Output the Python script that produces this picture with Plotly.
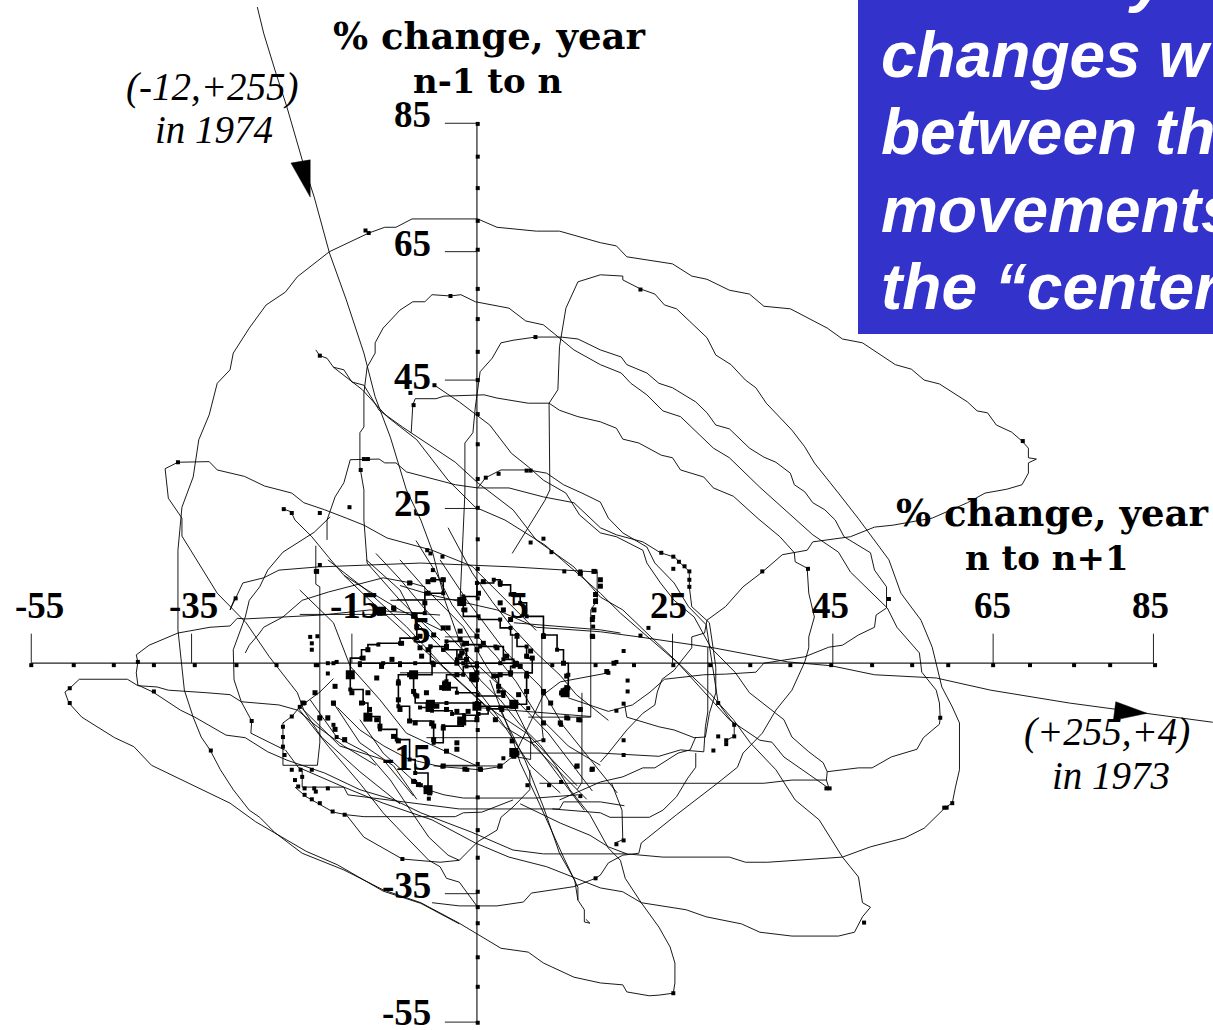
import plotly.graph_objects as go

W, H = 1213, 1030
x_range = [-58.9, 92.43]
y_range = [-56.23, 104.2]

x_tick_values = [-55, -35, -15, 5, 25, 45, 65, 85]
y_tick_values = [85, 65, 45, 25, 5, -15, -35, -55]
x_axis_level = 0.9
y_axis_level = 0.6

line_1974 = [(-26.8,103.1),(-26,99),(-24.6,93.3),(-23.1,87.5),(-21.2,79.3),(-19.7,73.5),(-17.8,64.8),(-15.7,57.5),(-13.5,49.2),(-12.1,42.4),(-10.2,36.1),(-8.2,27.9),(-6.4,23.2),(-5,18.5),(-3.4,10.7),(-1.2,3),(1,-1.7)]
line_1973 = [(92.4,-8.3),(84.2,-6.9),(74.5,-5.3),(64.7,-3.3),(57.9,-1.4),(50.2,-0.9),(44.8,0.5),(39.4,1.1),(30.1,3.3),(20.8,5),(16,5.8),(8,6.5),(3.1,9.2),(-5,11.5),(-9,13)]
arrow_1974 = [(-22.6,78.8),(-20.2,79.3),(-20.2,73.5),(-22.6,78.8)]
arrow_1973 = [(80.3,-5.1),(84.2,-6.9),(80,-8),(80.3,-5.1)]

loop_a = [(16,-14.5),(17,-13.1),(19.3,-9.5),(21.3,-6.9),(22.8,-5.6),(23.1,-3.6),(23.7,-1.6),(25.2,-0.2),(26,1.1),(27.4,3.3),(27.4,5),(29,5.6),(29.3,7.6),(31.6,9.7),(33.8,12.8),(36.2,15.1),(38.7,17.8),(41.8,18.5),(42.5,19.8),(47.2,20.6),(50.2,22.1),(52.5,22.4),(57.4,23.5),(61.8,25.9),(64,27.4),(66.7,28),(68.6,28.7),(69.4,30.5),(69.4,32.1),(70.4,32.7),(69.4,32.9),(69.4,34.4),(68.6,35.5),(67.3,36.9),(65.4,38),(64.3,39.9),(63,40.2),(61.8,41.6),(58.3,44.4),(56.4,45),(54.8,46.7),(52.8,47.4),(48.7,50.8),(46.2,51.4),(44.3,53.1),(39.7,56.1),(36.4,56.5),(34.6,58.4),(32.1,59),(29.3,60.7),(27.4,61.2),(25,63.1),(19.3,64.2),(18,65.9),(16,66.4),(10.9,68.2),(8,68.2),(3.1,68.8),(0.7,70.1),(-7.5,70.1),(-9.5,68.8),(-10.9,68.8),(-12.9,67.9),(-17.8,65),(-21.8,61.1),(-23.3,58.7),(-25.7,56.7),(-27.8,53.1),(-29.8,49.2),(-30.2,46.6),(-31.8,44.5),(-32.8,39.6),(-34.1,35.7),(-34.8,29.9),(-36.2,25.2),(-36.7,18.5),(-36.7,6.1),(-36.2,0.3),(-35.9,-3.3),(-34.8,-7.5),(-33.8,-10.6),(-32.7,-12.6),(-31.4,-15.7),(-29.8,-18.8),(-27.8,-22),(-26.5,-23.1),(-24.6,-25.5),(-21.2,-28.7),(-18.3,-30.2),(-16,-31.3),(-11.1,-34.4),(-6.4,-36.4),(-1.6,-39.6),(3.6,-43.5),(7,-44.1),(8.9,-45.8),(12.7,-48),(16,-48.9),(18.8,-49.2),(19.3,-50.3),(22.1,-50.9),(23.3,-50.8),(25.1,-50.5),(25.3,-48.9),(25.3,-45.8),(24.7,-43.3),(23.3,-40.2),(21.1,-36.4),(19.1,-32.6),(18.5,-29.8),(17,-27.9),(14.7,-22.7),(12.2,-18.8),(10.4,-15),(8.5,-11.8),(6,-8.7),(3.5,-4.8),(1,-1.7)]
loop_c = [(-4,4.5),(-9,10.7),(-13.1,16.5),(-13.5,23.2),(-13.5,27.9),(-14,31.5),(-14,36.8),(-13.5,37.7),(-13.5,43),(-13.1,47),(-12.1,49.2),(-12.1,50.8),(-11.1,53.1),(-9,55.9),(-7.4,57.2),(-5.9,57.2),(-5,58.3),(-2.7,58.1),(-1.4,58.3),(0.4,57.2),(4.6,56.2),(6.7,54.2),(8.9,53.6),(12.7,49.7),(16,47.4),(18.6,46.1),(19.8,44.5),(21.8,42.7),(23.8,40.2),(26,39.3),(30.1,34.4),(32.1,32.9),(35.9,28.3),(40.2,23.5),(42.5,20.9),(45.7,18.2),(47.2,15.1),(51.8,9.5),(53,6.5),(55.8,2.5),(56.1,-0.5),(57.9,-3.3),(58.3,-5.3),(58.4,-7.6),(58.3,-8.6),(56.3,-10.7),(55.5,-12.5),(52.3,-13.7),(49.9,-15.4),(48.2,-15.4),(44.3,-16),(44.2,-17.3),(44.5,-18.5)]
loop_d = [(-1.5,10.7),(-0.9,27.4),(-0.9,35.2),(0.1,36.8),(0.4,40.8),(0.7,43.5),(1,46.3),(2.5,48.4),(3.6,50.8),(5.1,51.2),(7.9,51.7),(11.1,51.7),(13.2,51.4),(16,49.7),(18.6,48.6),(19.3,47.4),(21.8,46.1),(23.3,44.5),(25,43.8),(27.9,41.6),(29.3,39.9),(30.4,38),(32.1,37.4),(34.6,34.4),(36.4,33),(37.9,32.2),(39.7,30.5),(40.2,28.7),(41.5,27.6),(42.5,25.9),(44,24.8),(45.3,23.2),(46.4,20.6),(49.7,18.1),(50.2,15.4),(51.7,12.8),(51.7,9.5),(50.4,8.4),(50.2,6.5),(48.2,5.3),(46.2,3.7),(44.5,3.4),(41.5,1.9),(36.4,0.9),(35.4,-0.5),(31.6,-0.8),(28.9,-0.9),(24,-1.6),(22.2,-3.6),(20,-5.6),(17,-6.6),(12,-4.5)]
loop_e = [(5,18),(9.1,26.3),(9.7,27.9),(9.6,41.4),(10.7,43.5),(10.9,50.2),(11.7,56.2),(13.2,60.3),(16,61.4),(18.8,61.2),(18.8,60.6),(21,59.2),(22.8,58.4),(24,56.7),(25.5,56.1),(29.3,51.6),(30.4,48.9),(32.3,47.4),(34.1,45),(35.4,43.8),(36.7,41.4),(39.9,37.2),(41.5,34.6),(42.7,32.1),(45.7,27.4),(48.2,23.4),(52,17),(53.5,11.8),(56,7.6),(57.4,3.4),(58.6,-2.8),(59.9,-5.9),(60.8,-8.4),(60.8,-15.7),(60.3,-18.4),(59.9,-20.9),(59.1,-21.5),(56.4,-24.8),(54,-26.3),(49.7,-27.7),(46.2,-29.3),(36.9,-30.1),(34.1,-30.1),(32.1,-29.3),(23.8,-29.3),(19.3,-28.8),(17,-27.7),(14.7,-25.9),(11,-24),(6,-21)]
loop_f = [(-7.6,36.8),(-7.4,41.1),(-7.1,42.1),(-4.5,42.1),(-3.5,42.5),(1.5,42.7),(3.1,42.2),(7,41.4),(9.6,41.4),(10.9,40.3),(13.2,39.3),(16,38.5),(18,37.5),(18.8,35.8),(20.8,35.2),(23.6,33.3),(25,32.9),(26,31),(28.9,29.9),(30.1,28.2),(32.6,26.9),(35.7,23.4),(38.4,20.6),(40.2,18.1),(40.3,16.7),(41.8,15.7),(42,11.8),(42.7,8.1),(42,5),(42,3.3),(41.5,1.1),(39.9,-3.3),(37.9,-6.4),(36.2,-10),(33.8,-13.1),(33.1,-15.3),(30.6,-17.8),(27.9,-20.4),(25.5,-22.7),(21.1,-27.1),(20.8,-28.7),(18.8,-29),(17,-30.2),(16,-32.1),(15.4,-32.6),(12.7,-33.9),(7.4,-34.9),(6.4,-36.3),(3.1,-36.9),(-1.6,-36.9),(-5,-36.4)]
diag_1 = [(-19.5,49.7),(-19,48.8),(-18.1,48.4),(-17.3,47),(-16,46.6),(-15,44.7),(-13.5,44.2),(-11.6,40.3),(-8.7,37.7),(-5.4,34.9),(-2.1,32.2),(0.7,29),(5.1,24.8),(8,20.1),(12.7,15.9),(16,11.2),(18.8,9.2),(22.3,5),(25.7,0.9),(29.6,-3.7),(32.6,-7.9),(34.7,-11.5),(37.9,-15.7),(40.3,-20.4),(43.3,-23.5),(46.2,-29.3),(48.2,-32.4),(48.7,-36.4),(49.7,-37.1),(48.7,-38.6),(47.7,-41),(45.7,-41.6),(39.9,-41.6),(35.9,-41),(33.6,-39.7),(29.2,-38.6),(26.7,-37.5),(21.1,-36.4),(18.8,-34.7),(16,-34.1),(9.3,-30.8),(4.6,-29.3),(0.4,-27.1),(-5,-23.5),(-11.1,-20.9),(-16,-18.4),(-21.7,-15.3),(-23.3,-12.6)]
diag_2 = [(-17.3,47),(-15.7,45.5),(-13.7,43.5),(-10.6,39.3),(-6.9,35.7),(-3,29.4),(0.4,25.2),(4.1,23.2),(9.1,19.3),(16,11.8),(18.5,8.7),(25.7,0.9),(32.1,-7.9),(35.9,-11.1),(37.4,-11.4),(38.9,-13.7),(44.3,-18.4)]
diag_3 = [(-4.7,44.2),(-1.6,41.6),(2.2,38),(4.9,33.6),(7,31.5),(8.9,29.4),(11.7,27.4),(13.4,24),(16,21.2),(18,20.6),(21.3,18.5),(21.8,16.5),(23.5,13.4),(25.2,10.7),(27.7,8.1),(29.8,3.3),(32.8,-0.5),(34.6,-3.7),(38.9,-7.9),(39.9,-10.6),(42,-12.9),(43.8,-14.6),(44.3,-16)]
tail_top = [(-50.2,-3),(-49,-1.6),(-43,-1.6),(-41.7,-2.6),(-39.3,-2.8),(-37.9,-3.3),(-33.1,-3.7),(-30.2,-4),(-28.8,-5.1),(-24.1,-5.6),(-21.8,-6.4),(-19.6,-8.7),(-16,-12),(-12,-15)]
tail_low = [(-50.2,-3),(-50.8,-3.6),(-50.3,-5.3),(-48.7,-7.5),(-44.6,-10.7),(-42.2,-12.1),(-40,-15),(-35.4,-17.8),(-30.2,-20.9),(-27,-23.8),(-23.6,-26.3),(-20.7,-28.4),(-16.8,-30.5),(-11.1,-34.6),(-6.4,-36.5),(-1.6,-39.7)]
left_flat = [(-4,8.4),(-12.7,9.2),(-18.8,8.4),(-24.1,8.1),(-28.3,7.8),(-29.3,7.9),(-30.2,6.7),(-32.7,6.5),(-36.7,5.6),(-40.3,3.7),(-41.9,2.2),(-41.7,1.1),(-41.9,-0.6),(-41.7,-2.5),(-39.8,-3.6),(-36.4,-6.4),(-34.6,-7.5),(-30.7,-10.3),(-28.3,-10.7),(-25.5,-12.9),(-23.1,-14.2),(-18.4,-16.2),(-14,-18.8),(-9.7,-20.4),(-6.4,-22.4),(-0.1,-25.4),(5.1,-28.2),(8.9,-28.8),(16,-28.8),(19.3,-28.8)]
top_left_loop = [(-36.7,32.2),(-38.3,31.2),(-37.9,26.6),(-36.2,23.5),(-36.2,20.7),(-34.6,17.4),(-31.8,11.8),(-28.2,7.2),(-25.3,1.9),(-21.8,-3.7),(-21,-6.4),(-18.8,-10.6),(-14,-16),(-9,-21)]
top_left_right = [(-36.7,32.2),(-32.8,32.3),(-31.8,31),(-28.4,30),(-25.9,28.5),(-22.5,27.4),(-21,25.9),(-18.4,24.8),(-15.7,23.5),(-13.5,22.4),(-10.6,20.4),(-5,18.5),(0,16),(4,11),(8,6)]
flat_top = [(-29.6,11.1),(-30.2,9.2),(-28.6,13.4),(-26,14.2),(-24.1,15.4),(-19.2,15.9),(-6.4,16.5),(5.1,15.9),(15.6,15.1),(15.6,10.7),(14.8,9.2),(14.8,-7.5),(7,-7.5)]
curve_g = [(-18.1,20.1),(-18.1,23.2),(-17.1,26.8),(-16,29),(-15.2,32.6),(-13.5,32.7),(-11.6,32.7),(-10.9,32.1),(-9.5,32.1),(-8.2,30.7),(-5.9,29.9),(-2.1,28.7),(0.7,28.2),(4.6,28.2),(8.9,26.8),(12.7,25.9),(16,22),(18,20.9),(21.3,19.8),(23.5,18.1),(25.3,17.4),(25.8,16.7),(27.1,15.2),(27.1,12.8),(27.4,9.7),(29.6,7.2),(30.1,3),(30.4,0.3),(30.4,-3.7),(29.6,-6.9),(29.1,-10.6),(27.7,-10.7),(25.2,-9.5),(23.3,-9),(19.3,-7.5),(19,-5.3)]
curve_h = [(0.7,28.2),(1.7,29.8),(3.6,31),(7,31),(9.3,30.5),(11.4,28.7),(13.7,27.4),(16,26),(17,23.5),(18.8,21.2),(21.8,19),(22.8,16.5),(25.2,13.4),(27,9.7),(29.2,6.9),(30.7,-5.3),(32.7,-8.7),(32.7,-10.5),(31.7,-11.1)]
curve_i = [(-23.5,24.9),(-22.6,24.5),(-22.1,23.2),(-20,20.6),(-17.9,17.4),(-16,14.6),(-13.1,12.3),(-9,9.2),(-3.8,6)]
curve_j = [(-17.7,23.7),(-19.7,21.3),(-23.6,18.2),(-25.5,15.4),(-26.5,12.8),(-27.8,10.7),(-28.3,8.1),(-29.8,3),(-29.7,-1.7),(-28.8,-5.1),(-27.5,-8.1),(-27.6,-10),(-23.4,-12.6)]
curve_k = [(-28.3,2.5),(-27.8,3.7),(-26.7,5.3),(-26,6.5),(-23.6,8.1),(-21.2,10.7),(-17.9,12),(-13.1,13.6),(-11.9,13.9),(-11.1,14.2),(-7.6,13.4),(-5.9,12.8),(-5.9,10.7),(-10.2,10.7)]
box_rect = [(-19.5,19.2),(-19.5,13.2),(-19,12.8),(-19,-11.5),(-19.3,-15),(-23.6,-15),(-23.6,-8.4),(-22.5,-7.4),(-21.5,-5.9),(-19,-3.6),(-17.3,-1.5)]
lower_h1 = [(8.4,-17.8),(16,-17.8),(36.4,-17.8),(39.9,-17.3),(44.2,-17.3)]
lower_h2 = [(6,-13.1),(16,-13.1),(23.3,-13.6),(26,-12.6),(28.9,-12.9),(29.1,-9),(29.4,-6.7),(29.4,3.4)]
lower_h3 = [(27.9,-13.1),(27.9,-15.3),(26.9,-17),(25.5,-19.9),(23.8,-22),(22.1,-23.1),(17.2,-23.1),(16,-22.4),(10,-21.8)]
lower_h4 = [(10.9,-20.4),(16,-17.6),(18.8,-16.8),(21.3,-15.4),(22.8,-15.4),(25.7,-13.1),(27.2,-12.6),(27.9,-10.6)]
lower_v = [(17.4,-17.8),(18.7,-22),(18.8,-26.6),(17.8,-27.1)]
drop_1 = [(2.2,-1.7),(4.1,-7.9),(5.1,-11.1),(6,-14.6),(8,-19.9),(11.4,-29.3),(13.2,-34),(13.2,-36),(14,-37.5),(14,-39.4),(14.7,-39.6),(14.2,-39)]
drop_2 = [(3.5,-6.4),(6.6,-14.2),(8.9,-21.5),(10.9,-28.7),(12.8,-32.9),(13.2,-36)]
fall_1 = [(-21.7,-6.1),(-17.9,-12.1),(-14,-17.8),(-11.1,-22.4),(-8.2,-26.2),(-5.4,-29.8),(-4,-30.8),(-3.2,-32.6),(-1.6,-33.2),(-0.9,-34.4),(0.7,-37.1)]
fall_2 = [(-20.2,-4.8),(-16.9,-10.6),(-13.1,-13.1),(-10.2,-17.3),(-7.7,-22),(-5.4,-26.2),(-3,-29),(-1.6,-29.8)]
fall_3 = [(-22.1,-18.4),(-20.7,-19.9),(-17.3,-22.3),(-15.7,-22.7),(-13.5,-26.2),(-11.1,-27.9),(-8.7,-29.6),(-4,-30.1),(-1.6,-29.8),(0.7,-26.9),(3.1,-25.1),(3.6,-23.1),(5.1,-21.5),(7.2,-18.8),(7.2,-15.7)]
fall_4 = [(-14,-7.9),(-11.1,-13.1),(-7.4,-17.3),(-5.6,-18.8),(-3.5,-19.6),(-1.1,-20.1),(5.1,-20.1),(8,-20.1),(13.2,-19.6)]
band_1 = [(-15.7,-22.7),(-13.5,-23),(-2.1,-23),(-1.1,-22.4),(1.2,-22.3),(5.1,-20.4)]
band_2 = [(-21.2,-15.9),(-21.2,-18.4),(-16,-18.4),(-15.5,-19.6),(-1.6,-21.8),(10.9,-21.8),(11.4,-20.7),(16,-20.7),(19,-21.3)]
mesh_1 = [(-16,14.6),(-13,11),(-9.5,7),(-6,3),(-2.5,-1),(1,-5),(4,-9),(8,-12),(11,-17),(14,-22)]
mesh_2 = [(-12,18),(-9,14),(-6,9.5),(-3,5.5),(-0.5,2),(2.5,-1.5),(6,-5.5),(9.5,-10),(12.5,-15),(15,-19)]
mesh_3 = [(-7,20),(-4.5,15),(-2.5,10),(0,6),(3,2),(5.5,-2),(8,-7),(12,-12),(16,-15)]
mesh_4 = [(-3,22),(0,15),(2.5,10.5),(5,6.5),(8,2.5),(11,-1),(13,-4),(17,-8)]
mesh_5 = [(-16.8,-6),(-14,-9.5),(-11,-12),(-8,-14),(-4,-15.2),(1,-15.7),(3.5,-15.2),(5.3,-13.4),(7,-9),(8.9,-4),(11,-2),(17,-0.6)]
mesh_6 = [(-21.5,12.3),(-17.3,7.2),(-15.2,0.4),(-11.5,-4.8),(-8.2,-10),(-4.8,-12),(0.6,-15.1)]
mesh_7 = [(-18,17),(-13.2,12.3),(-8.2,6.6),(-3.6,0.4),(1.8,-5.8),(6.8,-10),(13.1,-18.2)]
mesh_8 = [(-13.2,17),(-9,12.3),(-6.9,7.2),(-1.9,0.9),(3.5,-7.9),(7.3,-15.1),(11,-19.3)]
mesh_9 = [(-9,17),(-6.1,12.9),(-1.1,6.6),(1.8,0.4),(5.2,-5.8),(7.7,-12),(14.3,-20.3)]
mesh_10 = [(-4,17),(-0.7,10.8),(4.3,2.5),(8.5,-2.7),(11.4,-8.9),(18.1,-19.3)]
mesh_11 = [(-21.5,-5.8),(-16.5,-12),(-11.1,-14.1),(-7.3,-19.8)]
mesh_12 = [(-17.3,-5.3),(-14,-11.5),(-9.8,-15.1),(-6.9,-20.3)]
mesh_13 = [(5.2,7.2),(16,6.1),(18.5,5.6)]
step_1 = [(-9.4,10.8),(-1.5,10.8)]
step_2 = [(-5.7,-10.7),(7.3,-10.7),(7.3,-14.1),(5.2,-13.6)]
step_3 = [(-4.8,-15.1),(3.1,-15.1)]
step_4 = [(0.6,-6),(14.8,-7.4)]
step_5 = [(-9,-0.6),(6.8,-0.6)]
step_6 = [(8.7,5.3),(8.7,-8.9),(8.9,-11),(7.3,-11.5)]
step_7 = [(-21.5,8.5),(-7.3,8.5)]
step_8 = [(13.7,-3.7),(13.7,-17.7),(13.1,-18.8)]

ring_1 = [(-5,13.9),(-3.6,13.9),(-3.6,11.8),(-5.7,11.8),(-5.9,8.7),(-7.3,8.5),(-6.9,4.8),(-9,4),(-11.7,3.8),(-13,3),(-13.8,1.7),(-15.2,-0.9),(-15.2,-3.2),(-13.6,-5.3),(-13,-7.4),(-11.5,-9.4),(-9.4,-11),(-7.8,-14.1),(-7.1,-16.2),(-5.5,-18.8)]
ring_2 = [(-7.3,-0.9),(-9.2,-1.9),(-9.2,-5.8),(-7.8,-8.1),(-5.1,-8.6),(-4.8,-11.5),(-3.6,-8.9),(-1.1,-8.1),(0.6,-7.6),(0.6,-5.8),(5.2,-5.5),(6.8,-3.5),(6.8,-0.6),(7.5,1.7),(6.8,3.5),(5.6,5.3),(4.8,6.4),(3.5,7.7),(0.8,8.2),(-1.1,9.2),(-1.1,11.3),(0.6,13.4),(2.7,13.9),(3.5,13.1),(4.8,11.6),(6,10.3),(6.8,8.2),(8.9,5.3),(10.6,3),(11.4,0.9),(12,-0.9),(12,-3),(11.4,-3.7)]
ring_3 = [(-5.2,3.5),(-3.2,4.3),(-1.1,3.8),(1,3.5),(2.9,3.5),(3.9,1.5),(5.2,0.4),(4.8,-0.9),(3.1,-1.1),(3.3,-3.5),(3.9,-4.2),(0.6,-5.3),(-3.2,-5.3),(-5.5,-5.3),(-7.1,-4),(-7.3,-0.9),(-5,1),(-5.2,3.5)]
ring_4 = [(-3.6,3),(-1.9,1.5),(-0.7,0.4),(-1.1,-0.9),(-3.2,-1.9),(-3.6,-2.9),(-1.9,-3.7),(0.6,-1.7),(0.6,0.4),(-0.7,3),(-3.6,3)]
ring_5 = [(-14,0.9),(-11.1,0.9),(-9,0.9),(-7.1,0.9),(-4.8,0.9),(-1.1,0.9),(0.6,0.9),(3.5,0.9),(5.6,0.9)]
ring_6 = [(-6.5,-6),(-5,-6.5),(-2.5,-7),(-1,-7.2),(0.8,-7),(2,-6.2),(3.5,-6),(5.2,-5.8)]

x_axis_marks = [-55,-49.7,-44.7,-39.7,-34.6,-29.4,-24.4,-19.5,-14,-9,-4.8,0.6,5.6,10,15.4,20.2,25.1,29.7,34.7,39.7,44.8,49.9,54.9,59.4,65,69.6,75.1,79.6,85.2]
y_axis_marks = [84.9,79.8,74.9,69.8,65.3,59.2,54.5,49.4,45,39.7,35,29.6,25.1,20.2,15.6,11,6,-4,-9.5,-14.8,-20,-25.1,-29.4,-34.7,-37.1,-39.6,-44.9,-49.5,-55.1]
scatter_marks = [(-22.5,-15.7),(-21.4,-15.7),(-20,-15.7),(-22.1,-17.3),(-21.2,-16.8),(-21.7,-18.3),(-20.9,-18.6),(-19.7,-18.6),(-19.5,-19.1),(-18,-18.6),(-20.9,-19.6),(-20,-20.3),(-19,-20.9),(-17.4,-22.2),(-15.9,-22.7),(-23.6,-9),(-23.6,-10.6),(-23.6,-12.1),(-23.4,-13.4),(-22.5,-7.4),(-21.5,-5.9),(-20.9,-5.3),(-19,-7.7),(-18,-7.7),(-17.3,-5.4),(-17.3,-8.7),(-16.9,-10.6),(-15.9,-11.1),(-20.2,5),(-19.3,5.1),(-20,4),(-20,3),(-19.3,0.6),(-18,0.9),(-17.3,0.9),(-18,-0.7),(-16.9,1.1),(-29.5,11),(-41.7,1.1),(-39.7,-3.5),(-50.2,-3),(-50.2,-5.3),(-32.6,-12.7),(-27.5,-8.1),(-19,16.2),(-19.5,15.2),(-11.1,8.7),(-9.7,9.3),(-7.7,13.4),(-3.7,17.5),(-5.6,18.5),(-5.2,18),(-4.9,15.4),(-4.9,13.9),(-3.7,13.9),(8.9,20.3),(7.3,19.7),(9.9,18.2),(11.5,15.2),(13.5,15.2),(15.4,15.2),(15.4,10.7),(15.1,8.1),(15.1,6.6),(15.1,5),(-8.7,-29.6),(-3.7,-15.2),(-0.6,-15.7),(1.1,-15.7),(3.4,-15.2),(3.9,-13.9),(5.3,-13.4),(7,-6.1),(8.9,-11.1),(8.9,-3.8),(8.9,5),(11.1,-3.8),(13.5,-8),(12,-7.7),(11.1,-8.7),(13,-15.2),(14.9,-15.7),(11.1,-17.6),(9.6,-18.1),(6.9,-18.1),(13.5,-19.8),(15.4,-32.6),(-5.4,-18.9),(-5.4,-20.2),(-6.4,-18.1),(-7.1,-17.6),(23.6,18.1),(25.1,17.5),(25.8,16.7),(26.5,16),(27.1,15.2),(25.1,15.6),(27.1,13.9),(27.1,12.8),(22,6.4),(21,5.2),(18.9,2.8),(18,1.1),(17,-0.6),(19.4,-1.8),(19.4,-3.5),(18.9,-5.4),(18,-6.5),(30.7,-5.3),(32.7,-8.7),(32.7,-10.5),(31.7,-11.1),(31.7,-11.7),(30.7,-10.5),(30.1,-12.7),(18.9,-11.1),(18.9,-13.4),(18.9,-26.7),(18,-27.3),(36.2,15.2),(41.9,15.6),(52,10.9),(58.4,-7.6),(44.6,-18.6),(44.2,-18.6),(59.9,-20.9),(59.2,-21.6),(58.9,-21.6),(48.9,-39.5),(25.1,-50.5),(-12.9,67.9),(-13.3,68.3),(-2.7,58.1),(7.9,51.7),(-19,48.8),(-4.7,44.2),(-7.7,43),(-7.3,41.1),(-36.7,32.2),(-13.5,32.7),(-13,32.7),(-13.9,31),(-23.5,24.9),(-22.5,24.3),(-19,24.3),(-15.3,25.2),(1.7,29.8),(3.3,30.4),(6.8,30.9),(7.3,30.9),(21,59.1),(68.7,35.5)]
center_marks = [(-5.5,13.6),(-4.8,13.9),(-3.6,13.9),(-5.5,11.8),(-5.9,10.3),(-7.3,8.2),(-6.9,6.6),(-6.5,5.1),(-4.8,5.3),(-3.6,6.4),(-3,6.4),(-1.5,5.9),(-1.5,4.6),(-0.7,4),(0.6,5.1),(1.4,4),(3.1,3.3),(4.3,2),(5.4,0.9),(6,0.4),(6.8,2),(7.5,1.7),(-1.1,10.8),(-0.9,9.2),(0.8,11.8),(1.4,13.6),(3.5,13.4),(5.2,11.6),(3.5,10.3),(3.9,9.2),(4.8,7.7),(5.6,5.1),(7.3,2.8),(8.9,5.1),(11.4,0.9),(11.8,-1.1),(11.8,-2.9),(11.2,-3.7),(9.8,-5.3),(8.9,-3.5),(6.8,-1.1),(6.8,-3.5),(5.8,-4),(5.2,-5.5),(3.9,-3.7),(3.3,-2.7),(3.5,-0.9),(4.8,-0.6),(2.7,-1.1),(0.6,-0.6),(0.2,-1.7),(-1.9,-0.9),(-3.2,-2.7),(-3.8,-2.9),(-5.7,-3.7),(-6.9,-4.2),(-7.3,-3.5),(-7.8,-0.9),(-7.1,-0.9),(-9.2,-2.2),(-9.2,-4.8),(-9,-6.3),(-7.8,-8.1),(-7.1,-8.4),(-5,-8.4),(-3.6,-9.2),(-1.5,-8.4),(-1.1,-8.1),(0.6,-7.9),(2.9,-7.9),(3.7,-6.3),(5.2,-5.8),(0.6,-5.8),(-0.5,-6.6),(-1.9,-6.6),(-3.2,-6.3),(-4.4,-5.8),(-5.5,-5.5),(-5.5,-6.3),(-4.8,-8.9),(-4.8,-11),(-1.9,-11.5),(-3.2,-12.8),(-1.9,-12.5),(-3.6,-15.1),(-0.9,-15.6),(1,-15.6),(3.5,-15.1),(5,-11.2),(5.2,-13.6),(5.6,-13.1),(-17.1,-2.7),(-17.3,-5.3),(-15,-3.7),(-13.8,-5.3),(-13,-3.7),(-12.8,-6.3),(-11.9,-7.9),(-11.5,-8.9),(-9.8,-10.5),(-9.2,-11.2),(-13,3),(-13.6,1.7),(-11.3,0.4),(-11.9,-1.4),(-8.8,4),(-10,1.5),(-6.3,2),(-6.5,3.3),(-5.5,3),(-3.2,3.5),(-1.3,2.5),(0.6,3),(-0.7,1.5),(-1.9,0.9),(-1.5,2),(-19.6,-3.7),(-19,-7.6),(-18,-7.6),(-17.1,-9.4),(-15.9,-11),(-21.1,-5.3),(-19.4,15.2),(-7.8,13.4),(-9.8,9.5),(-11.5,8.7),(-11.1,9),(15.2,9.2),(15,7.7),(15,5.1),(13.5,14.9),(15.2,15.2),(16,13.9),(16,12.9),(15.4,11.6),(15.4,10.5),(17.7,0.9),(16.8,-0.4),(13.1,-15.1),(15,-15.6),(11,-8.4),(8.9,-8.4),(13.5,-6.3),(13.3,-7.9),(11.8,-7.6),(-5.7,-18.8),(-5.3,-19.3),(-7.3,-17.5),(-6.7,-18)]
blob_marks = [(-15.2,-0.9),(-7.3,-0.9),(0.2,-1.2),(-3.2,-2.7),(0.6,-5.8),(5.2,-5.5),(-1.3,-8.1),(-5.2,-5.5),(11.6,-3.7),(5.2,-13),(-5.5,-18.8),(-13,-7.5),(-11.3,9),(-1.3,10.5)]

plain_lines = [line_1974, line_1973, loop_a, loop_c, loop_d, loop_e, loop_f, diag_1, diag_2, diag_3, tail_top, tail_low, left_flat, top_left_loop, top_left_right, flat_top, curve_g, curve_h, curve_i, curve_j, curve_k, box_rect, lower_h1, lower_h2, lower_h3, lower_h4, lower_v, drop_1, drop_2, fall_1, fall_2, fall_3, fall_4, band_1, band_2, mesh_1, mesh_2, mesh_3, mesh_4, mesh_5, mesh_6, mesh_7, mesh_8, mesh_9, mesh_10, mesh_11, mesh_12, mesh_13, step_1, step_2, step_3, step_4, step_5, step_6, step_7, step_8]
heavy_lines = [ring_1, ring_2, ring_3, ring_4, ring_5, ring_6]

fig = go.Figure()

def xs(points):
    return [p[0] for p in points]

def ys(points):
    return [p[1] for p in points]

# axes
fig.add_trace(go.Scatter(x=[x_tick_values[0], x_tick_values[-1]], y=[x_axis_level, x_axis_level], mode="lines", line=dict(color="#222", width=1.2)))
fig.add_trace(go.Scatter(x=[y_axis_level, y_axis_level], y=[y_tick_values[0], y_tick_values[-1]], mode="lines", line=dict(color="#222", width=1.2)))
for t in x_tick_values:
    fig.add_trace(go.Scatter(x=[t, t], y=[x_axis_level, 5.5], mode="lines", line=dict(color="#222", width=1)))
for t in y_tick_values:
    fig.add_trace(go.Scatter(x=[-3.4, y_axis_level], y=[t, t], mode="lines", line=dict(color="#222", width=1)))

for series in plain_lines:
    fig.add_trace(go.Scatter(x=xs(series), y=ys(series), mode="lines", line=dict(color="black", width=0.9)))
for series in heavy_lines:
    fig.add_trace(go.Scatter(x=xs(series), y=ys(series), mode="lines+markers", line=dict(color="black", width=1.6, shape="hv"), marker=dict(symbol="square", size=4, color="black")))
for series in [arrow_1974, arrow_1973]:
    fig.add_trace(go.Scatter(x=xs(series), y=ys(series), mode="lines", fill="toself", fillcolor="black", line=dict(color="black", width=0.5)))

fig.add_trace(go.Scatter(x=x_axis_marks, y=[x_axis_level - 0.3] * len(x_axis_marks), mode="markers", marker=dict(symbol="square", size=4, color="black")))
fig.add_trace(go.Scatter(x=[y_axis_level + 0.1] * len(y_axis_marks), y=y_axis_marks, mode="markers", marker=dict(symbol="square", size=4, color="black")))
fig.add_trace(go.Scatter(x=xs(scatter_marks), y=ys(scatter_marks), mode="markers", marker=dict(symbol="square", size=4, color="black")))
fig.add_trace(go.Scatter(x=xs(center_marks), y=ys(center_marks), mode="markers", marker=dict(symbol="square", size=5, color="black")))
fig.add_trace(go.Scatter(x=xs(blob_marks), y=ys(blob_marks), mode="markers", marker=dict(symbol="square", size=9, color="black")))

SERIF = "Liberation Serif"
WIDE = "DejaVu Serif"
SANS = "Liberation Sans"

def label(text, px, py, family, size, color="black", weight="normal", style="normal", anchor="center"):
    fig.add_annotation(text=text, x=px / W, y=1 - py / H, xref="paper", yref="paper", xanchor=anchor, yanchor="middle", showarrow=False,
                       font=dict(family=family, size=size, color=color, weight=weight, style=style))

for text, px in zip(["-55", "-35", "-15", "5", "25", "45", "65", "85"], [39, 193, 355, 519, 668, 830, 992, 1150]):
    label(text, px, 605, SERIF, 37, weight="bold")
for text, py in zip(["85", "65", "45", "25", "5", "-15", "-35", "-55"], [114, 243, 377, 503, 630, 757, 885, 1012]):
    label(text, 433, py, SERIF, 37, weight="bold", anchor="right")
label("% change, year", 489, 36, WIDE, 37, weight="bold")
label("n-1 to n", 487, 81, WIDE, 34, weight="bold")
label("% change, year", 1052, 513, WIDE, 37, weight="bold")
label("n to n+1", 1047, 558, WIDE, 34, weight="bold")
label("(-12,+255)", 212, 87, SERIF, 39, style="italic")
label("in 1974", 214, 130, SERIF, 39, style="italic")
label("(+255,+4)", 1107, 732, SERIF, 39, style="italic")
label("in 1973", 1111, 775, SERIF, 39, style="italic")

for text, py in [("y", -22), ("changes w", 55), ("between th", 132), ("movements", 210), ("the “center", 287)]:
    px = 1126 if text == "y" else 879
    label("<b><i>" + text + "</i></b>", px, py, SANS, 64, color="white", anchor="left")

fig.update_layout(
    width=W, height=H, autosize=False, showlegend=False, hovermode=False,
    margin=dict(l=0, r=0, t=0, b=0), paper_bgcolor="white", plot_bgcolor="white",
    xaxis=dict(range=x_range, visible=False, fixedrange=True),
    yaxis=dict(range=y_range, visible=False, fixedrange=True),
    shapes=[dict(type="rect", xref="paper", yref="paper", x0=858 / W, x1=1, y0=1 - 334 / H, y1=1, fillcolor="#3333CC", line=dict(width=0), layer="below")],
)

fig.write_html("out.html", config=dict(displayModeBar=False), post_script="document.body.style.margin='0';document.body.style.overflow='hidden';")
